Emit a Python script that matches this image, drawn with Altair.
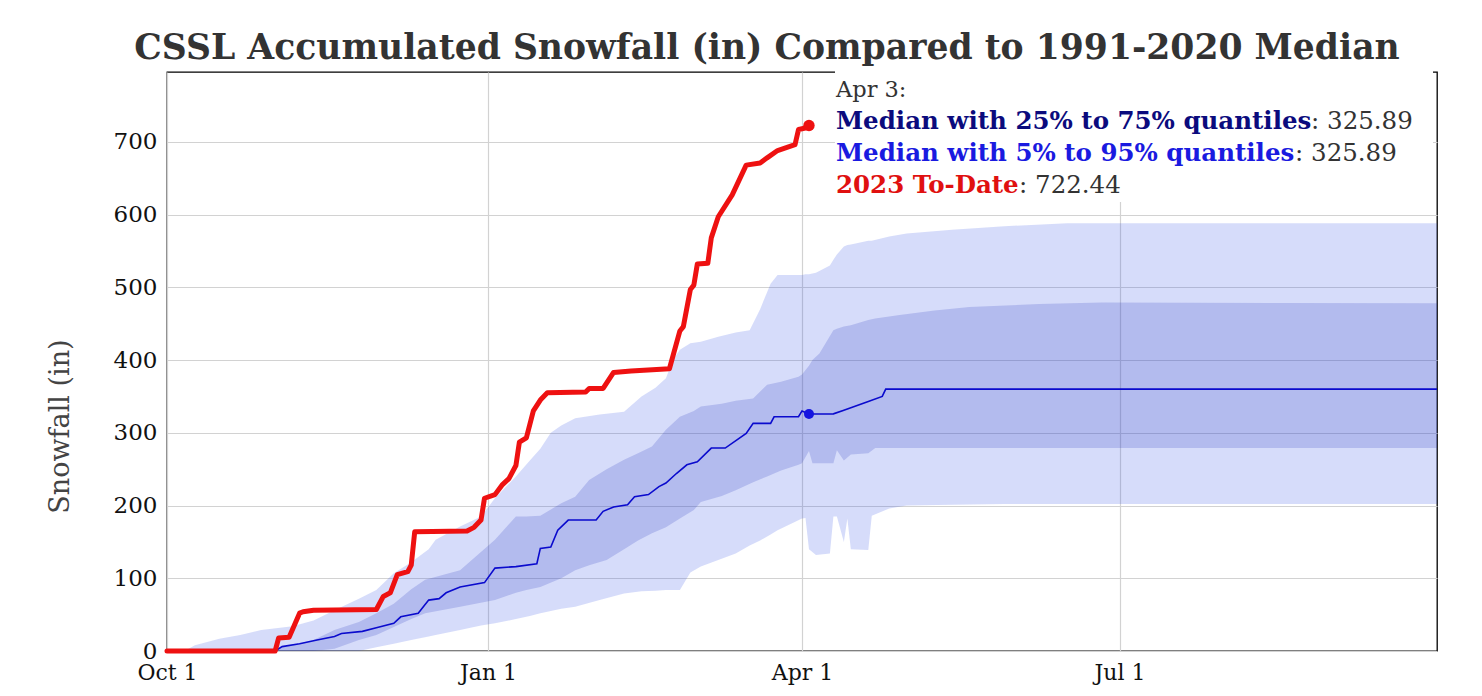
import altair as alt
import pandas as pd

START = pd.Timestamp("2022-10-01")

def to_dates(days):
    return [(START + pd.Timedelta(days=int(d))).strftime("%Y-%m-%d") for d in days]

# ---- 2023 to-date accumulated snowfall (days since Oct 1, inches)
red_days = [0, 31, 32, 35, 38, 39, 42, 60, 62, 64, 66, 69, 70, 71, 86, 88, 90, 91, 94, 96, 98,
            100, 101, 103, 105, 107, 109, 120, 121, 125, 128, 133, 144, 147, 148, 150, 151,
            152, 155, 156, 158, 162, 166, 170, 172, 175, 180, 181, 183, 184]
red_vals = [0, 0, 18, 19, 52, 54, 56, 57, 75, 80, 105, 109, 118, 164, 165, 170, 180, 210, 215,
            228, 237, 255, 287, 293, 330, 345, 355, 356, 361, 361, 383, 385, 388, 440, 446, 497,
            503, 532, 533, 568, 597, 627, 668, 671, 678, 688, 696, 717, 719, 722.44]

# ---- median
med_days = [0, 31, 33, 38, 43, 48, 50, 56, 60, 65, 67, 72, 75, 78, 80, 84, 91, 94, 100, 106,
            107, 110, 112, 115, 123, 125, 128, 132, 134, 138, 141, 143, 146, 149, 152, 156, 160,
            166, 168, 173, 174, 181, 182, 184, 191, 194, 197, 201, 205, 206, 364]
med_vals = [0, 0, 6, 10, 15, 20, 24, 27, 32, 38, 47, 52, 70, 72, 80, 88, 94, 114, 116, 120,
            141, 143, 166, 180, 180, 192, 198, 201, 212, 215, 226, 231, 244, 256, 260, 279, 279,
            299, 313, 313, 322, 322, 330, 325.89, 326, 331, 336, 343, 350, 360, 360]

# ---- 5% / 95% quantiles
q5_days = [0, 5, 8, 15, 21, 27, 36, 42, 48, 55, 60, 65, 70, 75, 77, 84, 90, 94, 100, 104, 107,
           110, 113, 117, 124, 131, 136, 140, 143, 145, 147, 150, 153, 158, 163, 167, 170, 173,
           175, 182, 183, 184, 186, 190, 191, 192, 194, 195, 196, 201, 202, 207, 212, 225, 240,
           258, 364]
q05_vals = [0, 0, 0, 0, 0, 0, 0, 0, 0, 0, 5, 10, 15, 20, 22, 29, 35, 38, 44, 48, 52,
            55, 58, 61, 70, 79, 82, 83, 84, 84, 84, 108, 116, 125, 134, 145, 152, 160,
            166, 182, 183, 140, 132, 134, 185, 185, 150, 182, 140, 139, 186, 196, 200, 201, 202,
            202, 202]
q95_vals = [0, 0, 8, 17, 22, 29, 34, 42, 56, 72, 84, 107, 122, 140, 153, 171, 185, 210, 240, 262, 278,
            300, 310, 320, 325, 329, 350, 362, 375, 400, 414, 423, 425, 432, 438, 441, 470, 505,
            517, 517, 518, 518, 520, 530, 538, 545, 556, 558, 559, 564, 564, 570, 574, 579, 584,
            588, 588]

# ---- 25% / 75% quantiles
q25_days = [0, 25, 31, 38, 42, 48, 55, 60, 65, 70, 74, 84, 94, 100, 103, 107, 113, 117, 121, 126,
            131, 135, 139, 143, 147, 151, 153, 159, 163, 168, 172, 176, 181, 182, 184, 185, 187,
            191, 192, 194, 196, 201, 203, 210, 220, 230, 250, 268, 364]
q25_vals = [0, 0, 0, 0, 0, 3, 15, 22, 33, 44, 52, 61, 70, 80, 84, 88, 100, 111, 118, 125,
            140, 152, 162, 170, 182, 194, 205, 213, 221, 232, 240, 248, 256, 258, 275, 258, 258,
            258, 276, 262, 270, 272, 279, 279, 279, 279, 279, 279, 279]
q75_vals = [0, 0, 3, 10, 15, 29, 40, 52, 65, 85, 98, 111, 153, 185, 185, 186, 203, 212, 235, 250,
            263, 272, 281, 304, 322, 330, 336, 340, 344, 347, 366, 370, 377, 380, 392, 400, 409,
            441, 443, 446, 448, 455, 457, 462, 468, 473, 477, 479, 478]

red_df = pd.DataFrame({"date": to_dates(red_days), "value": red_vals})
med_df = pd.DataFrame({"date": to_dates(med_days), "value": med_vals})
light_df = pd.DataFrame({"date": to_dates(q5_days), "lo": q05_vals, "hi": q95_vals})
dark_df = pd.DataFrame({"date": to_dates(q25_days), "lo": q25_vals, "hi": q75_vals})
dots_df = pd.DataFrame({"date": ["2023-04-03", "2023-04-03"], "value": [722.44, 325.89],
                        "series": ["2023 To-Date", "Median"]})

SERIF = "DejaVu Serif"
PLOT_W, PLOT_H = 1270, 579

x_scale = alt.Scale(type="utc", domain=[alt.DateTime(year=2022, month=10, date=1, utc=True),
                                        alt.DateTime(year=2023, month=9, date=30, utc=True)])
y_scale = alt.Scale(domain=[0, 796], nice=False, zero=True)

x_axis = alt.Axis(
    values=[alt.DateTime(year=2022, month=10, date=1, utc=True),
            alt.DateTime(year=2023, month=1, date=1, utc=True),
            alt.DateTime(year=2023, month=4, date=1, utc=True),
            alt.DateTime(year=2023, month=7, date=1, utc=True)],
    labelExpr="utcFormat(datum.value, '%b %-d')", title=None, ticks=False, domain=False,
    labelFlush=False, labelPadding=11, labelFont=SERIF, labelFontSize=22, labelColor="#111",
    grid=True, gridColor="#d2d2d2", gridWidth=1.2)
y_axis = alt.Axis(
    values=[0, 100, 200, 300, 400, 500, 600, 700], title="Snowfall (in)", ticks=False,
    domain=False, labelPadding=10, labelFont=SERIF, labelFontSize=23, labelColor="#111",
    grid=True, gridColor="#d2d2d2", gridWidth=1.2,
    titleFont=SERIF, titleFontSize=27, titleFontWeight="normal", titleColor="#444",
    titleAngle=270, titleX=-107, titleY=354, titleAlign="center", titleBaseline="middle")

X = alt.X("date:T", scale=x_scale, axis=x_axis)

light = alt.Chart(light_df).mark_area(color="#3250e6", opacity=0.2).encode(
    x=X, y=alt.Y("lo:Q", scale=y_scale, axis=y_axis), y2="hi:Q")
dark = alt.Chart(dark_df).mark_area(color="#2737be", opacity=0.2).encode(
    x="date:T", y="lo:Q", y2="hi:Q")
median = alt.Chart(med_df).mark_line(color="#0a0acd", strokeWidth=1.6).encode(
    x="date:T", y="value:Q")
red = alt.Chart(red_df).mark_line(color="#ee1111", strokeWidth=5, strokeJoin="round",
                                  strokeCap="round").encode(x="date:T", y="value:Q")
dots = alt.Chart(dots_df).mark_circle(opacity=1).encode(
    x="date:T", y="value:Q",
    color=alt.Color("series:N", scale=alt.Scale(domain=["2023 To-Date", "Median"],
                                                range=["#ee1111", "#1515e0"]), legend=None),
    size=alt.Size("series:N", scale=alt.Scale(domain=["2023 To-Date", "Median"],
                                              range=[130, 100]), legend=None))

box = alt.Chart(pd.DataFrame({"a": [0]})).mark_rect(color="white").encode(
    x=alt.value(668), x2=alt.value(1266), y=alt.value(-3), y2=alt.value(130))

def label(txt, x, y, color, weight="normal", size=22, font=SERIF, align="left"):
    return alt.Chart(pd.DataFrame({"t": [txt]})).mark_text(
        align=align, baseline="alphabetic", font=font, fontSize=size, fontWeight=weight,
        color=color).encode(text="t:N", x=alt.value(x), y=alt.value(y))

title = label("CSSL Accumulated Snowfall (in) Compared to 1991-2020 Median", 600, -13,
              "#333", weight="bold", size=34.6, align="center")
leg = [
    label("Apr 3:", 669, 25, "#333", size=22.5),
    label("Median with 25% to 75% quantiles", 669, 57, "#0b0b7d", weight="bold", size=24.5),
    label(": 325.89", 1144, 57, "#333", size=24.5),
    label("Median with 5% to 95% quantiles", 669, 89, "#1a1ae0", weight="bold", size=24.5),
    label(": 325.89", 1128, 89, "#333", size=24.5),
    label("2023 To-Date", 669, 121, "#e01010", weight="bold", size=24.5),
    label(": 722.44", 852, 121, "#333", size=24.5),
]

chart = alt.layer(light, dark, median, red, dots, box, title, *leg).properties(
    width=PLOT_W, height=PLOT_H,
    padding={"left": 167, "top": 72, "right": 45, "bottom": 45},
    autosize=alt.AutoSizeParams(type="none"),
    background="white",
).configure_view(stroke="black", strokeWidth=1.3)

chart.save("out.html", embed_options={"renderer": "svg", "actions": False})
